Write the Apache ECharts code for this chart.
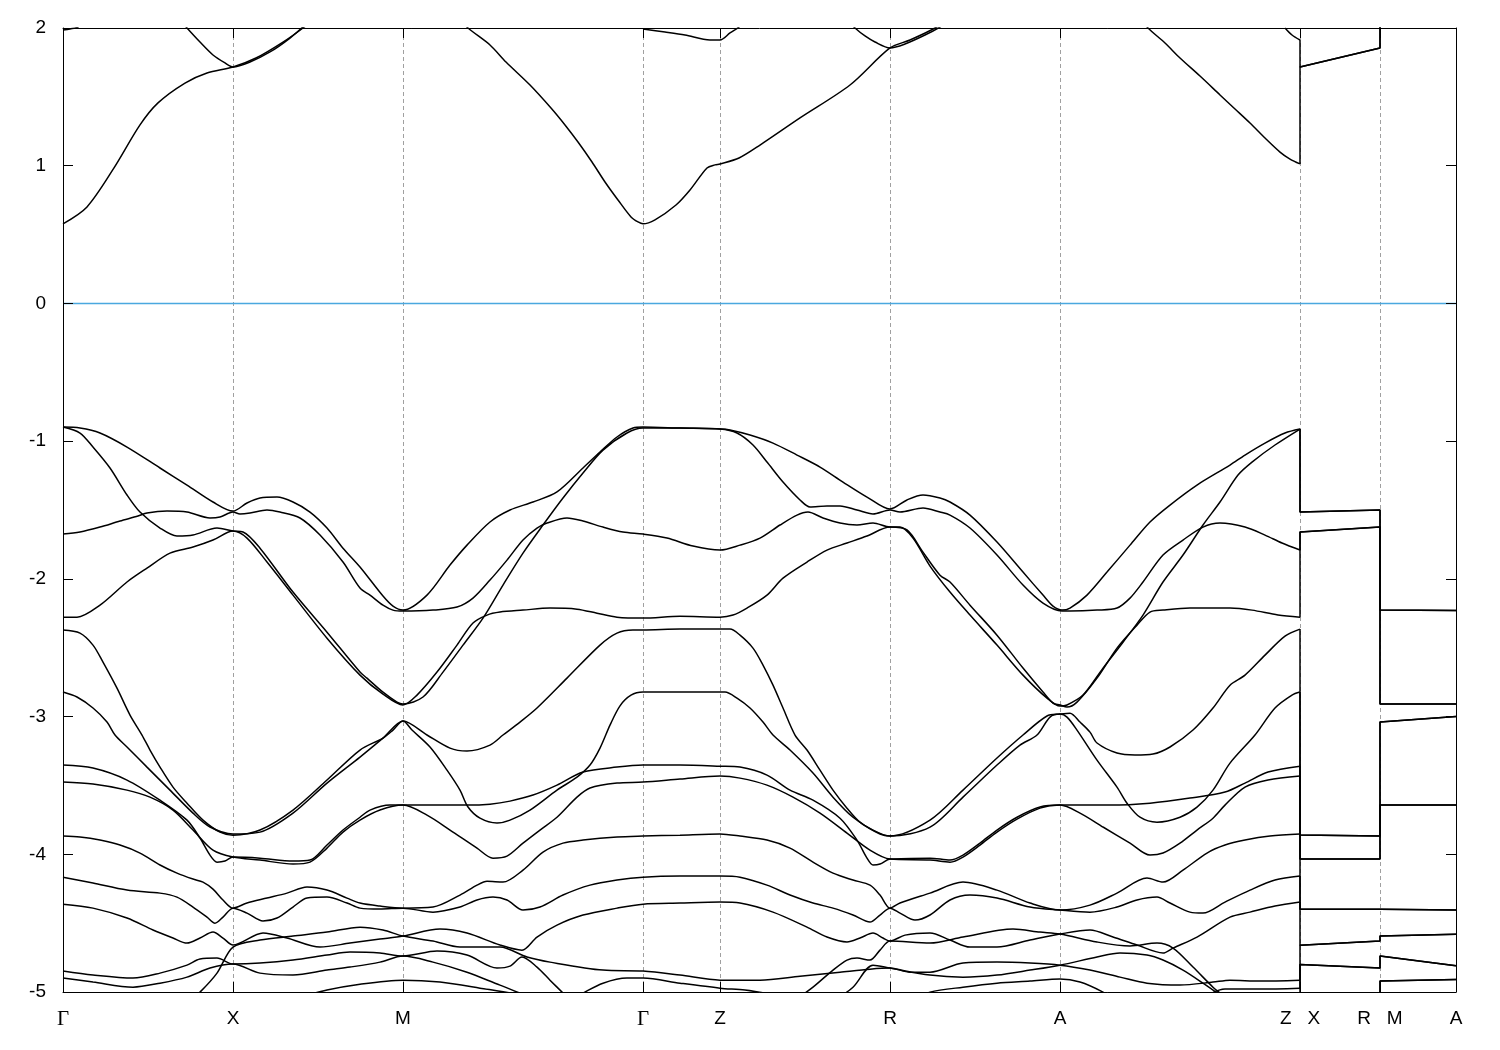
<!DOCTYPE html>
<html><head><meta charset="utf-8">
<script src="https://cdn.jsdelivr.net/npm/echarts@6/dist/echarts.min.js"></script>
<style>html,body{margin:0;padding:0;background:#fff}#c{width:1500px;height:1050px}</style>
</head><body><div id="c"></div>
<script>
// k-path coordinate (arb. units) of high-symmetry points and their labels
const kTicks = [0, 170, 340, 580, 657, 827, 997, 1237, 1317, 1393];
const kLabels = ['Γ', 'X', 'M', 'Γ', 'Z', 'R', 'A', 'Z   X', 'R   M', 'A'];
const dashedAt = [170, 340, 580, 657, 827, 997, 1237, 1317];
const energyTicks = [-5, -4, -3, -2, -1, 0, 1, 2];

// valence bands along Γ-X-M-Γ-Z-R-A-Z : [k, E(eV)]
const band1 = [[0,-0.898],[17,-0.905],[37,-0.941],[64,-1.043],[97,-1.195],[124,-1.319],[150,-1.442],[170,-1.508],[184,-1.449],[197,-1.413],[214,-1.406],[230,-1.442],[247,-1.515],[264,-1.631],[280,-1.777],[297,-1.914],[320,-2.125],[330,-2.198],[340,-2.227],[364,-2.118],[387,-1.9],[404,-1.755],[427,-1.587],[447,-1.5],[470,-1.442],[494,-1.369],[520,-1.195],[537,-1.079],[554,-0.97],[570,-0.905],[580,-0.898],[617,-0.905],[657,-0.912],[667,-0.919],[687,-0.956],[710,-1.014],[734,-1.101],[757,-1.188],[780,-1.297],[804,-1.406],[827,-1.493],[844,-1.427],[860,-1.391],[877,-1.413],[887,-1.442],[907,-1.537],[934,-1.733],[960,-1.951],[980,-2.118],[990,-2.198],[999,-2.227],[1007,-2.212],[1024,-2.118],[1044,-1.951],[1067,-1.755],[1087,-1.587],[1107,-1.464],[1134,-1.319],[1167,-1.174],[1182,-1.101],[1202,-1.014],[1222,-0.941],[1237,-0.912]];
const band2 = [[0,-0.898],[17,-0.941],[30,-1.043],[47,-1.195],[64,-1.391],[77,-1.515],[97,-1.631],[114,-1.689],[130,-1.682],[154,-1.631],[170,-1.653],[180,-1.66],[197,-1.777],[230,-2.096],[264,-2.387],[297,-2.677],[304,-2.721],[320,-2.823],[334,-2.895],[340,-2.909],[360,-2.858],[380,-2.677],[400,-2.481],[420,-2.285],[440,-2.045],[460,-1.813],[480,-1.609],[500,-1.413],[520,-1.231],[540,-1.065],[564,-0.941],[580,-0.905],[617,-0.905],[657,-0.912],[674,-0.941],[690,-1.028],[704,-1.152],[720,-1.297],[737,-1.427],[747,-1.478],[764,-1.471],[777,-1.471],[794,-1.5],[810,-1.529],[827,-1.5],[837,-1.515],[860,-1.486],[877,-1.515],[887,-1.537],[907,-1.631],[934,-1.827],[960,-2.045],[980,-2.176],[999,-2.234],[1007,-2.234],[1034,-2.227],[1054,-2.212],[1067,-2.14],[1080,-2.023],[1100,-1.827],[1120,-1.718],[1140,-1.624],[1157,-1.595],[1182,-1.624],[1202,-1.682],[1219,-1.74],[1237,-1.791]];
const band3 = [[0,-1.675],[17,-1.66],[37,-1.624],[57,-1.58],[75,-1.544],[84,-1.522],[104,-1.508],[124,-1.515],[147,-1.558],[157,-1.551],[170,-1.515],[177,-1.529],[187,-1.522],[204,-1.5],[217,-1.515],[237,-1.558],[257,-1.682],[280,-1.878],[297,-2.067],[307,-2.118],[320,-2.191],[330,-2.227],[340,-2.234],[370,-2.227],[394,-2.205],[410,-2.14],[427,-2.009],[444,-1.864],[460,-1.718],[474,-1.631],[484,-1.595],[504,-1.558],[520,-1.58],[540,-1.624],[560,-1.66],[580,-1.675],[604,-1.704],[630,-1.762],[657,-1.791],[677,-1.755],[697,-1.704],[717,-1.609],[734,-1.537],[745,-1.515],[760,-1.558],[777,-1.595],[794,-1.609],[810,-1.595],[827,-1.624],[837,-1.624],[850,-1.704],[867,-1.907],[887,-2.096],[907,-2.263],[934,-2.481],[960,-2.699],[984,-2.866],[997,-2.924],[1004,-2.916],[1020,-2.844],[1040,-2.648],[1060,-2.46],[1080,-2.263],[1100,-2.023],[1120,-1.827],[1140,-1.609],[1157,-1.442],[1175,-1.246],[1189,-1.152],[1212,-1.028],[1237,-0.912]];
const band4 = [[0,-2.278],[14,-2.278],[37,-2.191],[64,-2.023],[84,-1.922],[107,-1.813],[130,-1.769],[150,-1.718],[170,-1.653],[184,-1.704],[204,-1.878],[230,-2.118],[264,-2.431],[297,-2.699],[320,-2.837],[340,-2.916],[354,-2.844],[374,-2.677],[394,-2.481],[410,-2.321],[424,-2.263],[437,-2.241],[460,-2.227],[487,-2.212],[514,-2.22],[534,-2.249],[554,-2.278],[580,-2.285],[617,-2.271],[657,-2.278],[670,-2.263],[684,-2.212],[704,-2.118],[720,-1.995],[744,-1.878],[764,-1.791],[784,-1.74],[804,-1.689],[827,-1.624],[844,-1.645],[860,-1.806],[877,-1.973],[887,-2.023],[907,-2.191],[934,-2.409],[960,-2.648],[980,-2.822],[990,-2.902],[997,-2.916],[1004,-2.931],[1014,-2.895],[1034,-2.721],[1054,-2.503],[1074,-2.336],[1087,-2.241],[1100,-2.227],[1127,-2.212],[1150,-2.212],[1167,-2.212],[1189,-2.227],[1215,-2.263],[1237,-2.278]];
const band5 = [[0,-2.372],[17,-2.394],[30,-2.481],[40,-2.605],[54,-2.794],[67,-2.989],[79,-3.134],[87,-3.243],[97,-3.367],[110,-3.512],[124,-3.629],[140,-3.752],[157,-3.839],[170,-3.861],[197,-3.824],[230,-3.679],[264,-3.461],[297,-3.243],[320,-3.156],[330,-3.098],[340,-3.033],[364,-3.134],[387,-3.229],[404,-3.25],[427,-3.207],[440,-3.134],[457,-3.04],[474,-2.938],[504,-2.721],[537,-2.481],[554,-2.394],[570,-2.372],[580,-2.372],[617,-2.365],[657,-2.365],[667,-2.365],[677,-2.409],[690,-2.503],[700,-2.626],[710,-2.772],[720,-2.938],[732,-3.134],[744,-3.243],[757,-3.389],[770,-3.534],[784,-3.665],[797,-3.767],[817,-3.853],[827,-3.868],[867,-3.752],[900,-3.534],[934,-3.301],[960,-3.134],[984,-2.996],[997,-2.982],[1007,-2.975],[1017,-3.04],[1027,-3.113],[1034,-3.192],[1054,-3.265],[1072,-3.279],[1090,-3.272],[1107,-3.221],[1130,-3.098],[1150,-2.938],[1167,-2.772],[1182,-2.699],[1202,-2.554],[1222,-2.416],[1237,-2.365]];
const band6 = [[0,-2.822],[14,-2.858],[30,-2.938],[44,-3.04],[52,-3.134],[64,-3.221],[84,-3.367],[107,-3.534],[130,-3.701],[147,-3.802],[170,-3.853],[197,-3.839],[230,-3.701],[264,-3.483],[297,-3.294],[320,-3.156],[340,-3.033],[349,-3.098],[367,-3.221],[384,-3.389],[397,-3.534],[405,-3.657],[417,-3.738],[434,-3.773],[447,-3.752],[467,-3.679],[494,-3.534],[514,-3.44],[527,-3.352],[537,-3.229],[547,-3.062],[557,-2.922],[568,-2.845],[580,-2.822],[617,-2.822],[657,-2.822],[662,-2.822],[674,-2.866],[687,-2.938],[700,-3.04],[710,-3.134],[727,-3.243],[750,-3.41],[770,-3.585],[790,-3.731],[810,-3.825],[827,-3.868],[867,-3.803],[900,-3.585],[934,-3.352],[957,-3.207],[974,-3.134],[987,-3.004],[997,-2.982],[1004,-3.004],[1014,-3.098],[1034,-3.316],[1054,-3.512],[1064,-3.629],[1077,-3.731],[1094,-3.767],[1117,-3.731],[1134,-3.658],[1150,-3.534],[1167,-3.338],[1192,-3.134],[1212,-2.938],[1229,-2.844],[1237,-2.822]];
const band7 = [[0,-3.352],[30,-3.374],[64,-3.461],[97,-3.607],[124,-3.752],[137,-3.882],[147,-4.006],[154,-4.057],[162,-4.049],[170,-4.02],[197,-4.028],[230,-4.049],[247,-4.042],[264,-3.933],[280,-3.824],[297,-3.731],[307,-3.679],[327,-3.643],[340,-3.643],[404,-3.643],[427,-3.636],[447,-3.614],[470,-3.57],[494,-3.498],[520,-3.403],[554,-3.367],[580,-3.352],[617,-3.352],[657,-3.36],[677,-3.367],[704,-3.425],[727,-3.534],[750,-3.607],[777,-3.738],[794,-3.897],[804,-4.028],[810,-4.078],[817,-4.071],[827,-4.035],[867,-4.028],[887,-4.042],[900,-4.006],[917,-3.919],[934,-3.824],[954,-3.731],[977,-3.657],[997,-3.643],[1017,-3.643],[1047,-3.643],[1087,-3.629],[1127,-3.592],[1162,-3.548],[1182,-3.483],[1205,-3.403],[1237,-3.36]];
const band8 = [[0,-3.476],[30,-3.49],[64,-3.534],[87,-3.585],[110,-3.679],[130,-3.824],[150,-3.97],[170,-4.02],[197,-4.042],[230,-4.071],[247,-4.057],[264,-3.955],[280,-3.839],[297,-3.752],[317,-3.679],[340,-3.643],[364,-3.716],[387,-3.824],[414,-3.955],[430,-4.028],[444,-4.013],[460,-3.919],[477,-3.824],[494,-3.731],[514,-3.585],[527,-3.519],[554,-3.483],[580,-3.476],[617,-3.454],[657,-3.432],[677,-3.447],[704,-3.498],[730,-3.585],[757,-3.701],[784,-3.846],[807,-3.97],[827,-4.035],[867,-4.042],[887,-4.057],[900,-4.02],[917,-3.933],[934,-3.839],[954,-3.745],[977,-3.665],[997,-3.643],[1017,-3.701],[1040,-3.802],[1067,-3.919],[1087,-4.006],[1100,-3.991],[1117,-3.919],[1134,-3.824],[1150,-3.738],[1162,-3.643],[1182,-3.512],[1205,-3.461],[1237,-3.432]];
const band9 = [[0,-3.868],[17,-3.875],[37,-3.897],[57,-3.933],[77,-3.991],[97,-4.078],[114,-4.137],[130,-4.18],[140,-4.202],[150,-4.253],[160,-4.332],[170,-4.391],[184,-4.354],[204,-4.318],[224,-4.282],[244,-4.238],[264,-4.26],[284,-4.318],[297,-4.354],[317,-4.376],[340,-4.391],[370,-4.383],[397,-4.296],[414,-4.224],[424,-4.195],[440,-4.202],[460,-4.115],[480,-3.984],[500,-3.919],[520,-3.897],[554,-3.875],[580,-3.868],[617,-3.861],[657,-3.853],[677,-3.868],[704,-3.897],[727,-3.955],[750,-4.057],[770,-4.137],[790,-4.187],[807,-4.224],[817,-4.296],[827,-4.391],[837,-4.354],[867,-4.282],[900,-4.202],[934,-4.26],[967,-4.354],[997,-4.405],[1027,-4.369],[1054,-4.282],[1084,-4.173],[1100,-4.202],[1120,-4.115],[1144,-3.991],[1162,-3.933],[1182,-3.897],[1207,-3.868],[1237,-3.853]];
const band10 = [[0,-4.166],[30,-4.209],[64,-4.26],[97,-4.282],[114,-4.311],[130,-4.383],[144,-4.456],[152,-4.5],[160,-4.456],[170,-4.391],[184,-4.427],[200,-4.485],[214,-4.463],[230,-4.383],[244,-4.318],[264,-4.311],[284,-4.354],[297,-4.391],[317,-4.398],[340,-4.391],[370,-4.42],[397,-4.383],[414,-4.332],[430,-4.311],[444,-4.332],[460,-4.405],[477,-4.383],[500,-4.296],[527,-4.224],[554,-4.187],[580,-4.166],[617,-4.158],[657,-4.158],[677,-4.166],[704,-4.224],[727,-4.296],[750,-4.354],[770,-4.391],[790,-4.441],[807,-4.492],[817,-4.441],[827,-4.391],[837,-4.427],[852,-4.478],[867,-4.441],[887,-4.332],[907,-4.296],[934,-4.318],[967,-4.383],[997,-4.405],[1027,-4.42],[1054,-4.383],[1074,-4.332],[1094,-4.311],[1107,-4.354],[1127,-4.42],[1140,-4.427],[1162,-4.347],[1187,-4.26],[1212,-4.187],[1237,-4.158]];
const band11 = [[0,-4.362],[30,-4.391],[64,-4.463],[90,-4.55],[110,-4.608],[124,-4.645],[137,-4.608],[150,-4.565],[160,-4.608],[170,-4.659],[200,-4.572],[224,-4.608],[257,-4.674],[287,-4.645],[317,-4.616],[340,-4.594],[377,-4.543],[404,-4.572],[437,-4.659],[459,-4.696],[474,-4.601],[494,-4.514],[520,-4.441],[554,-4.391],[580,-4.362],[617,-4.354],[657,-4.347],[677,-4.354],[710,-4.42],[744,-4.529],[764,-4.601],[784,-4.637],[797,-4.608],[810,-4.572],[820,-4.608],[827,-4.63],[842,-4.587],[867,-4.572],[887,-4.623],[907,-4.674],[934,-4.674],[967,-4.623],[997,-4.579],[1027,-4.55],[1050,-4.601],[1074,-4.659],[1100,-4.717],[1110,-4.681],[1134,-4.601],[1167,-4.456],[1187,-4.42],[1212,-4.376],[1237,-4.347]];
const band12 = [[107,-5.132],[127,-5.059],[137,-5.001],[154,-4.863],[170,-4.674],[197,-4.623],[230,-4.594],[264,-4.565],[297,-4.529],[320,-4.55],[340,-4.594],[370,-4.63],[397,-4.674],[437,-4.674],[464,-4.746],[487,-4.783],[540,-4.841],[580,-4.848],[617,-4.877],[657,-4.914],[697,-4.914],[737,-4.885],[777,-4.856],[807,-4.834],[827,-4.826],[847,-4.856],[867,-4.856],[900,-4.79],[934,-4.783],[967,-4.79],[997,-4.805],[1027,-4.841],[1057,-4.892],[1084,-4.936],[1117,-4.95],[1150,-4.928],[1167,-4.914],[1197,-4.921],[1237,-4.914]];
const band13 = [[0,-4.848],[30,-4.877],[70,-4.899],[97,-4.863],[124,-4.805],[137,-4.761],[154,-4.754],[170,-4.797],[197,-4.79],[230,-4.768],[264,-4.732],[287,-4.71],[317,-4.717],[340,-4.739],[374,-4.703],[404,-4.732],[434,-4.826],[447,-4.812],[459,-4.746],[474,-4.819],[487,-4.914],[500,-5.008],[512,-5.095]];
const band14 = [[0,-4.899],[30,-4.928],[70,-4.965],[97,-4.936],[124,-4.892],[147,-4.826],[170,-4.797],[197,-4.863],[230,-4.877],[264,-4.841],[287,-4.819],[317,-4.783],[340,-4.739],[370,-4.783],[404,-4.856],[437,-4.95],[477,-5.059],[502,-5.081],[520,-5.008],[540,-4.936],[564,-4.899],[580,-4.899],[617,-4.936],[657,-4.972],[682,-4.986],[707,-5.015],[737,-5.059],[757,-5.095]];
const band15 = [[227,-5.059],[264,-4.986],[297,-4.943],[340,-4.914],[377,-4.928],[417,-4.972],[457,-5.022],[477,-5.073]];
const band16 = [[847,-5.059],[867,-5.001],[900,-4.965],[934,-4.936],[967,-4.921],[997,-4.906],[1017,-4.928],[1040,-5.001],[1052,-5.059]];
const band17 = [[732,-5.059],[750,-4.965],[770,-4.841],[784,-4.768],[794,-4.754],[807,-4.768],[817,-4.696],[827,-4.63],[867,-4.645],[900,-4.601],[950,-4.543],[977,-4.565],[997,-4.579],[1034,-4.637],[1067,-4.666],[1094,-4.645],[1110,-4.681],[1130,-4.819],[1150,-4.965],[1157,-5.008],[1167,-5.073]];
const band18 = [[772,-5.059],[790,-4.965],[810,-4.805],[827,-4.826],[867,-4.877],[900,-4.892],[934,-4.877],[967,-4.841],[997,-4.805],[1034,-4.746],[1057,-4.717],[1084,-4.732],[1100,-4.768],[1120,-4.841],[1140,-4.936],[1154,-5.008],[1162,-5.059]];
const band19 = [[1137,-5.059],[1162,-4.979],[1197,-4.979],[1237,-4.972]];

// conduction bands along Γ-X-M-Γ-Z-R-A-Z
const cb1 = [[0,0.578],[24,0.701],[51,0.984],[77,1.296],[95,1.456],[122,1.6],[144,1.673],[170,1.717],[193,1.782],[220,1.898],[240,2.0],[252,2.073]];
const cb2 = [[117,2.059],[124,2.0],[137,1.898],[150,1.804],[162,1.746],[170,1.717],[187,1.753],[207,1.826],[227,1.927],[242,2.022]];
const cb3 = [[0,1.985],[7,1.993],[15,2.007],[22,2.059]];
const cb4 = [[392,2.095],[405,2.0],[427,1.877],[443,1.753],[467,1.586],[488,1.419],[502,1.296],[515,1.172],[529,1.027],[542,0.882],[555,0.751],[568,0.628],[575,0.592],[580,0.578],[592,0.607],[613,0.715],[627,0.824],[644,0.984],[652,1.006],[657,1.013],[676,1.056],[697,1.15],[737,1.347],[787,1.586],[827,1.855],[847,1.913],[872,2.0],[882,2.059]];
const cb5 = [[580,1.993],[602,1.971],[622,1.949],[647,1.913],[657,1.913],[667,1.964],[676,2.007],[685,2.073]];
const cb6 = [[782,2.073],[792,2.0],[802,1.942],[812,1.898],[827,1.855],[842,1.884],[862,1.949],[877,2.007],[887,2.059]];
const cb7 = [[1077,2.073],[1085,2.0],[1102,1.891],[1117,1.782],[1137,1.651],[1157,1.514],[1172,1.412],[1187,1.31],[1202,1.201],[1217,1.099],[1227,1.048],[1237,1.013]];
const cb8 = [[1222,2.0],[1229,1.949],[1237,1.913]];

// bands (sorted by index) on the Z|X - R|M - A tail
const tailK = [1237, 1237, 1317, 1317, 1393];
const tailZ = [1.013, 1.913, -0.912, -0.912, -1.791, -2.278, -2.365, -2.822, -3.36, -3.432, -3.853, -4.158, -4.347, -4.914, -4.972, -5.1, -5.2, -5.3];
const tailX = [1.717, 1.717, -1.515, -1.515, -1.66, -1.66, -3.86, -3.86, -4.035, -4.035, -4.40, -4.40, -4.66, -4.66, -4.80, -4.80, -5.2, -5.3];
const tailR = [1.855, 1.855, -1.50, -1.50, -1.624, -1.624, -3.868, -3.868, -4.035, -4.035, -4.40, -4.40, -4.63, -4.63, -4.826, -4.826, -5.2, -5.3];
const tailM = [2.3, 2.4, -2.227, -2.227, -2.909, -2.909, -3.04, -3.04, -3.643, -3.643, -4.40, -4.40, -4.594, -4.594, -4.739, -4.739, -4.92, -4.92];
const tailA = [2.3, 2.4, -2.23, -2.23, -2.909, -2.909, -3.0, -3.0, -3.643, -3.643, -4.405, -4.405, -4.58, -4.58, -4.81, -4.81, -4.91, -4.91];

const mainBands = [band1, band2, band3, band4, band5, band6, band7, band8, band9, band10, band11, band12, band13, band14, band15, band16, band17, band18, band19, cb1, cb2, cb3, cb4, cb5, cb6, cb7, cb8];

const lineStyle = { color: '#000', width: 1.5 };
const series = [];
// guide lines first (drawn underneath): dashed verticals at high-symmetry points, Fermi level
series.push({
  type: 'line', data: [], silent: true, animation: false, z: 0,
  markLine: {
    silent: true, symbol: ['none', 'none'], animation: false, label: { show: false }, z: 0,
    data: dashedAt.map(function (v) { return { xAxis: v, lineStyle: { type: [4, 3], color: '#a0a0a0', width: 1 } }; })
      .concat([{ yAxis: 0, lineStyle: { type: 'solid', color: '#4aa8df', width: 1.3 } }])
  }
});
mainBands.forEach(function (d) {
  series.push({ type: 'line', data: d, showSymbol: false, smooth: 0.3, lineStyle: lineStyle, silent: true, animation: false, z: 5 });
});
for (let i = 0; i < tailZ.length; i++) {
  const vals = [tailZ[i], tailX[i], tailR[i], tailM[i], tailA[i]];
  series.push({ type: 'line', data: tailK.map(function (k, j) { return [k, vals[j]]; }), showSymbol: false, smooth: false, lineStyle: lineStyle, silent: true, animation: false, z: 6 });
}

function kFmt(v) {
  const i = kTicks.findIndex(function (t) { return Math.abs(t - v) < 0.5; });
  if (i < 0) return '';
  return kLabels[i] === 'Γ' ? '{g|Γ}' : kLabels[i];
}

const axisLine = { show: true, onZero: false, lineStyle: { color: '#000', width: 1 } };
const chart = echarts.init(document.getElementById('c'), null, { renderer: 'canvas' });
chart.setOption({
  backgroundColor: '#fff',
  animation: false,
  grid: { left: 63, right: 44, top: 28, bottom: 58, containLabel: false },
  xAxis: [
    { type: 'value', min: 0, max: 1393, position: 'bottom', axisLine: axisLine,
      axisTick: { show: true, inside: true, length: 10, customValues: kTicks, lineStyle: { color: '#000' } },
      axisLabel: { customValues: kTicks, formatter: kFmt, margin: 17, fontSize: 19, color: '#000', fontFamily: 'Liberation Sans', showMinLabel: true, showMaxLabel: true,
        rich: { g: { fontFamily: 'Liberation Serif', fontSize: 21, color: '#000' } } },
      splitLine: { show: false } },
    { type: 'value', min: 0, max: 1393, position: 'top', axisLine: axisLine,
      axisTick: { show: true, inside: true, length: 10, customValues: kTicks, lineStyle: { color: '#000' } },
      axisLabel: { show: false }, splitLine: { show: false } }
  ],
  yAxis: [
    { type: 'value', min: -5, max: 2, interval: 1, position: 'left', axisLine: axisLine,
      axisTick: { show: true, inside: true, length: 10, lineStyle: { color: '#000' } },
      axisLabel: { margin: 17, fontSize: 19, color: '#000', fontFamily: 'Liberation Sans' },
      splitLine: { show: false } },
    { type: 'value', min: -5, max: 2, interval: 1, position: 'right', axisLine: axisLine,
      axisTick: { show: true, inside: true, length: 10, lineStyle: { color: '#000' } },
      axisLabel: { show: false }, splitLine: { show: false } }
  ],
  series: series
});
</script>
</body></html>
